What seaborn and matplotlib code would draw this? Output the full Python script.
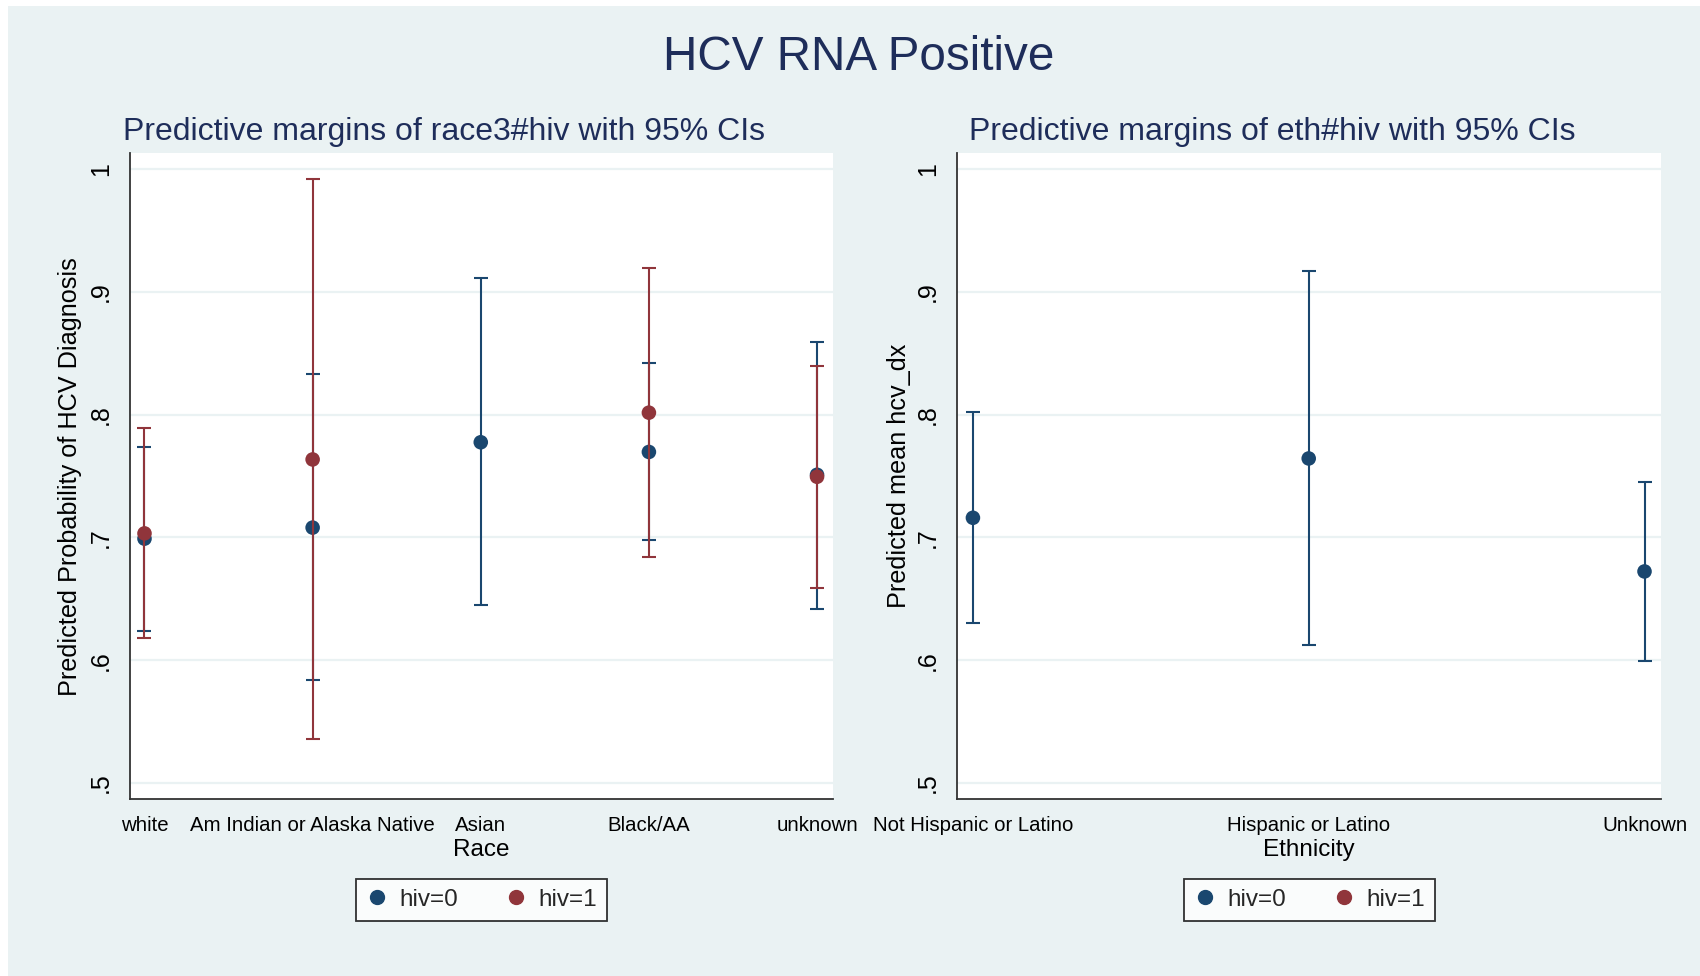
import numpy as np
import pandas as pd
import matplotlib
matplotlib.use("Agg")
import matplotlib.pyplot as plt
from matplotlib.patches import Rectangle
from matplotlib.lines import Line2D
from matplotlib.ticker import FuncFormatter
import seaborn as sns

# ---------------- data ----------------
race_cats = ["white", "Am Indian or Alaska Native", "Asian", "Black/AA", "unknown"]
race_hiv0 = [0.699, 0.708, 0.7775, 0.7696, 0.751]
race_hiv0_lo = [0.624, 0.5835, 0.6446, 0.698, 0.6414]
race_hiv0_hi = [0.7736, 0.8333, 0.9113, 0.8424, 0.8595]

race_hiv1_cats = ["white", "Am Indian or Alaska Native", "Black/AA", "unknown"]
race_hiv1 = [0.7033, 0.7635, 0.8016, 0.7494]
race_hiv1_lo = [0.618, 0.5358, 0.6837, 0.6585]
race_hiv1_hi = [0.789, 0.9916, 0.9197, 0.840]

eth_cats = ["Not Hispanic or Latino", "Hispanic or Latino", "Unknown"]
eth_hiv0 = [0.716, 0.7643, 0.6723]
eth_hiv0_lo = [0.630, 0.6127, 0.5997]
eth_hiv0_hi = [0.802, 0.9166, 0.745]

y_ticks = [0.5, 0.6, 0.7, 0.8, 0.9, 1.0]
legend_labels = ["hiv=0", "hiv=1"]

# ---------------- style ----------------
BG = "#eaf2f3"
BLUE = "#1a476f"
RED = "#90353b"
NAVY = "#1e2d5a"
AX = "#333333"

sns.set_style("white")
plt.rcParams["font.family"] = ["Liberation Sans", "DejaVu Sans"]

W, H = 1700, 976
fig = plt.figure(figsize=(W / 100, H / 100), dpi=100, facecolor="white")
fig.patches.append(Rectangle((8 / W, 0), 1 - 8 / W, 1 - 6 / H, transform=fig.transFigure,
                             facecolor=BG, edgecolor="none", zorder=-10))

def px_axes(x0, x1, y0, y1):
    return fig.add_axes([x0 / W, 1 - y1 / H, (x1 - x0) / W, (y1 - y0) / H])

axL = px_axes(129.7, 832.5, 153.3, 799)
axR = px_axes(956.8, 1661.3, 153.3, 799)

def draw_series(ax, cats, mid, lo, hi, color, z):
    df = pd.DataFrame({"cat": cats, "mid": mid, "lo": lo, "hi": hi})
    yerr = np.vstack([df["mid"] - df["lo"], df["hi"] - df["mid"]])
    ax.errorbar(df["cat"], df["mid"], yerr=yerr, fmt="none", ecolor=color,
                elinewidth=1.5, capsize=5, capthick=1.5, zorder=z)
    sns.scatterplot(data=df, x="cat", y="mid", ax=ax, color=color, s=110,
                    edgecolor="none", linewidth=0, zorder=z + 0.5, legend=False)

def style_axes(ax, xlim, xlabel, ylabel, ylab_x):
    ax.set_facecolor("white")
    ax.set_ylim(0.487, 1.0128)
    ax.set_xlim(*xlim)
    ax.set_yticks(y_ticks)
    ax.yaxis.set_major_formatter(FuncFormatter(
        lambda v, p: "1" if abs(v - 1) < 1e-9 else ("%.1f" % v).lstrip("0")))
    ax.yaxis.grid(True, color=BG, linewidth=1.6)
    ax.xaxis.grid(False)
    ax.set_axisbelow(True)
    for s in ["top", "right"]:
        ax.spines[s].set_visible(False)
    for s in ["left", "bottom"]:
        ax.spines[s].set_color(AX)
        ax.spines[s].set_linewidth(1.3)
    ax.tick_params(axis="both", direction="out", length=7, width=1.2, color=AX,
                   labelcolor="black")
    ax.tick_params(axis="x", labelsize=14.7, pad=5)
    ax.tick_params(axis="y", labelsize=18, pad=5)
    for t in ax.get_yticklabels():
        t.set_rotation(90)
        t.set_va("center")
    ax.set_xlabel(xlabel, fontsize=17.5, color="black", va="baseline")
    ax.xaxis.set_label_coords(0.5, (799 - 856) / 645.7)
    ax.set_ylabel(ylabel, fontsize=18.2, color="black", va="center")
    ax.yaxis.set_label_coords(ylab_x, 0.5)
    handles = [Line2D([], [], marker="o", linestyle="none", color=BLUE, markersize=10),
               Line2D([], [], marker="o", linestyle="none", color=RED, markersize=10)]
    leg = ax.legend(handles, legend_labels, loc="center", bbox_to_anchor=(0.5, -0.1564),
                    ncol=2, frameon=True, fancybox=False, fontsize=17.5,
                    handlelength=1.0, handletextpad=0.4, columnspacing=1.9,
                    borderpad=0.4, borderaxespad=0)
    leg.get_frame().set_edgecolor("black")
    leg.get_frame().set_linewidth(1.3)
    leg.get_frame().set_facecolor("white")

# left panel
draw_series(axL, race_cats, race_hiv0, race_hiv0_lo, race_hiv0_hi, BLUE, 3)
draw_series(axL, race_hiv1_cats, race_hiv1, race_hiv1_lo, race_hiv1_hi, RED, 5)
style_axes(axL, (-0.088, 4.092), "Race", "Predicted Probability of HCV Diagnosis",
           (70 - 129.7) / 702.8)

# right panel
draw_series(axR, eth_cats, eth_hiv0, eth_hiv0_lo, eth_hiv0_hi, BLUE, 3)
style_axes(axR, (-0.048, 2.05), "Ethnicity", "Predicted mean hcv_dx",
           (899 - 956.8) / 704.5)

# titles
fig.text(859 / W, 1 - 70 / H, "HCV RNA Positive", ha="center", va="baseline",
         fontsize=34.3, color=NAVY)
fig.text(444 / W, 1 - 140 / H, "Predictive margins of race3#hiv with 95% CIs",
         ha="center", va="baseline", fontsize=23, color=NAVY)
fig.text(1272 / W, 1 - 140 / H, "Predictive margins of eth#hiv with 95% CIs",
         ha="center", va="baseline", fontsize=23, color=NAVY)

fig.savefig("out.png", dpi=100, facecolor=fig.get_facecolor())
